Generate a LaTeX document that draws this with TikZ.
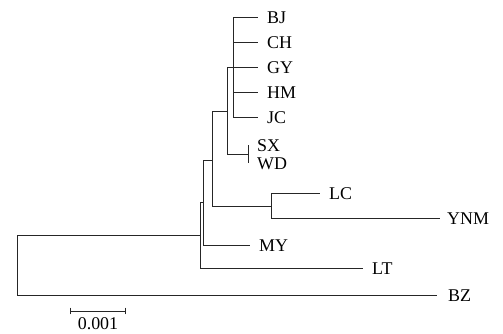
\documentclass[tikz,border=0pt]{standalone}
\usepackage{fontspec}
\setmainfont{Liberation Serif}
\usetikzlibrary{arrows,positioning}

\begin{document}
\begin{tikzpicture}[
    x=1bp, y=-1bp,
    branch/.style={draw=black!85, line width=0.7pt},
    leaf/.style={anchor=west, inner xsep=9bp, inner ysep=0pt, text height=12bp, text depth=0pt, font=\fontsize{18}{20}\selectfont},
    scalelabel/.style={inner sep=0pt, text height=12bp, text depth=0pt, font=\fontsize{18}{20}\selectfont}
]
    \useasboundingbox (0,0) rectangle (503,333);

    % Inner nodes
    \coordinate (root) at (17,265);
    \coordinate (n7) at (200,235);
    \coordinate (n6) at (203,202);
    \coordinate (n5) at (212,160);
    \coordinate (n3) at (227,111);
    \coordinate (n1) at (233,67);
    \coordinate (n2) at (248,154);
    \coordinate (n4) at (271,206);

    % Leaves
    \node[leaf] (BJ) at (258,17) {BJ};
    \node[leaf] (CH) at (258,42) {CH};
    \node[leaf] (GY) at (258,67) {GY};
    \node[leaf] (HM) at (258,92) {HM};
    \node[leaf] (JC) at (258,117) {JC};
    \node[leaf] (SX) at (248,145) {SX};
    \node[leaf] (WD) at (248,163) {WD};
    \node[leaf] (LC) at (320,193) {LC};
    \node[leaf, inner xsep=7bp] (YNM) at (440,218) {YNM};
    \node[leaf] (MY) at (250,245) {MY};
    \node[leaf] (LT) at (363,268) {LT};
    \node[leaf, inner xsep=11bp] (BZ) at (437,295) {BZ};

    % Branches
    \foreach \c in {BJ,CH,GY,HM,JC}
        \draw[branch] (n1) |- (\c.west);
    \draw[branch] (n2) |- (SX.west);
    \draw[branch] (n2) |- (WD.west);
    \draw[branch] (n3) |- (n1);
    \draw[branch] (n3) |- (n2);
    \draw[branch] (n4) |- (LC.west);
    \draw[branch] (n4) |- (YNM.west);
    \draw[branch] (n5) |- (n3);
    \draw[branch] (n5) |- (n4);
    \draw[branch] (n6) |- (n5);
    \draw[branch] (n6) |- (MY.west);
    \draw[branch] (n7) |- (n6);
    \draw[branch] (n7) |- (LT.west);
    \draw[branch] (root) |- (n7);
    \draw[branch] (root) |- (BZ.west);

    % Scale bar
    \coordinate (s0) at (70,311);
    \coordinate (s1) at (126,311);
    \coordinate (sm) at (98,311);
    \draw[branch, |-|] (s0) -- (s1);
    \node[scalelabel, below=6bp of sm] (scale) {0.001};
\end{tikzpicture}
\end{document}
